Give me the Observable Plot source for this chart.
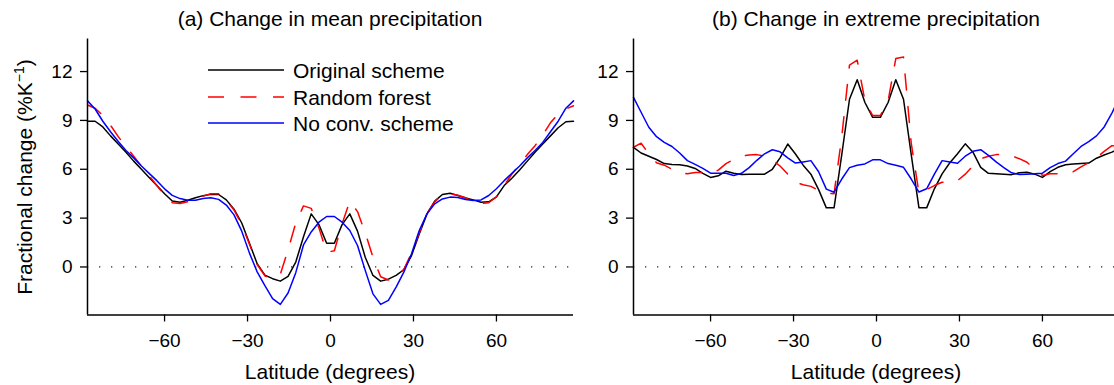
<!DOCTYPE html>
<html><head><meta charset="utf-8">
<script src="https://cdn.jsdelivr.net/npm/d3@7"></script>
<script src="https://cdn.jsdelivr.net/npm/@observablehq/plot@0.6"></script>
<style>
body{margin:0;overflow:hidden;background:#fff;font-family:"Liberation Sans",Arial,Helvetica,sans-serif;}
#wrap{position:relative;width:1114px;height:385px;overflow:hidden;background:#fff;}
.panel{position:absolute;top:0;}
.t{position:absolute;font-size:21px;line-height:21px;color:#000;white-space:nowrap;}
.c{transform:translateX(-50%);}
.ylab{transform:translate(-50%,-50%) rotate(-90deg);}
sup{font-size:14px;line-height:0;vertical-align:8px;}
</style></head>
<body><div id="wrap"></div>
<script>
// Gaussian latitudes (T42), south to north
const lat = [-87.864,-85.116,-82.326,-79.535,-76.744,-73.953,-71.163,-68.372,-65.581,-62.791,-60.000,-57.209,-54.419,-51.628,-48.837,-46.047,-43.256,-40.465,-37.674,-34.884,-32.093,-29.302,-26.512,-23.721,-20.930,-18.139,-15.349,-12.558,-9.767,-6.977,-4.186,-1.395,
 1.395,4.186,6.977,9.767,12.558,15.349,18.139,20.930,23.721,26.512,29.302,32.093,34.884,37.674,40.465,43.256,46.047,48.837,51.628,54.419,57.209,60.000,62.791,65.581,68.372,71.163,73.953,76.744,79.535,82.326,85.116,87.864];

// (a) mean precipitation change (%/K)
const meanOriginal = [8.95,8.95,8.6,8.05,7.55,7.05,6.5,6.0,5.5,5.0,4.5,4.05,3.98,4.1,4.25,4.38,4.47,4.45,4.12,3.55,2.7,1.45,0.2,-0.5,-0.72,-0.87,-0.58,0.3,1.85,3.26,2.6,1.46,
 1.46,2.6,3.26,2.2,0.6,-0.52,-0.87,-0.75,-0.52,-0.17,0.7,2.03,3.26,4.04,4.45,4.53,4.39,4.24,4.12,3.98,4.0,4.3,5.0,5.45,5.95,6.5,7.05,7.55,8.05,8.55,8.92,8.95];
const meanRandomForest = [9.95,9.75,9.3,8.7,8.0,7.4,6.8,6.2,5.6,5.0,4.4,3.95,3.9,4.0,4.2,4.35,4.5,4.5,4.1,3.5,2.6,1.4,0.15,-0.55,-0.7,-0.45,1.05,2.7,3.75,3.6,2.4,0.9,
 1.0,2.65,4.04,3.4,2.1,0.6,-0.6,-0.8,-0.6,-0.15,0.85,2.1,3.3,4.0,4.45,4.5,4.4,4.25,4.05,3.9,3.95,4.3,5.0,5.7,6.3,6.9,7.45,8.1,8.85,9.4,9.7,9.9];
const meanNoConv = [10.2,9.7,8.95,8.3,7.7,7.15,6.7,6.2,5.75,5.3,4.8,4.4,4.2,4.1,4.1,4.2,4.25,4.15,3.8,3.2,2.2,0.85,-0.3,-1.15,-1.95,-2.3,-1.6,-0.35,1.35,2.15,2.75,3.1,
 3.1,2.75,2.24,1.32,-0.21,-1.65,-2.3,-2.05,-1.24,-0.32,0.81,2.24,3.26,3.88,4.18,4.29,4.27,4.14,4.08,4.12,4.39,4.8,5.3,5.75,6.2,6.7,7.15,7.65,8.3,8.95,9.75,10.2];

// (b) extreme precipitation change (%/K)
const extOriginal = [7.35,7.0,6.8,6.6,6.35,6.3,6.28,6.2,6.05,5.75,5.5,5.6,5.88,5.76,5.68,5.7,5.7,5.7,6.0,6.7,7.55,6.94,6.25,5.7,4.75,3.63,3.63,6.9,10.3,11.5,10.1,9.19,
 9.19,10.1,11.5,10.3,6.9,3.63,3.63,4.8,5.72,6.4,6.95,7.56,7.05,6.12,5.75,5.72,5.7,5.67,5.78,5.82,5.7,5.5,5.85,6.12,6.28,6.32,6.35,6.38,6.68,6.88,7.05,7.3];
const extRandomForest = [7.35,7.6,6.95,6.4,6.25,6.0,5.8,5.72,5.8,5.8,5.7,5.95,6.35,6.6,6.8,6.88,6.9,6.8,6.55,6.2,5.7,5.2,5.05,4.95,4.7,4.55,4.49,8.0,12.4,12.7,10.2,9.3,
 9.3,10.2,12.8,12.9,7.6,4.55,4.75,5.0,5.2,5.2,5.3,5.7,6.2,6.64,6.8,6.9,6.9,6.82,6.65,6.43,6.0,5.62,5.72,5.72,5.7,5.85,6.15,6.4,6.7,7.1,7.45,7.4];
const extNoConv = [10.42,9.5,8.58,8.0,7.65,7.4,7.0,6.53,6.3,6.05,5.76,5.76,5.76,5.62,5.75,6.1,6.55,6.95,7.2,7.07,6.7,6.38,6.45,6.53,5.85,4.78,4.59,5.4,6.1,6.25,6.33,6.58,
 6.58,6.35,6.25,6.12,5.4,4.6,4.8,5.7,6.53,6.45,6.37,6.8,7.1,7.2,6.85,6.45,6.1,5.78,5.68,5.7,5.72,5.76,6.1,6.35,6.5,6.95,7.4,7.7,8.05,8.6,9.45,10.4];

const xTicks = [-60,-30,0,30,60];
const yTicks = [0,3,6,9,12];
const xDomain = [-87.864, 87.864];
const yDomain = [-2.95, 14.0];
const seriesNames = ["Original scheme","Random forest","No conv. scheme"];
const seriesColors = ["#000000","#ff0000","#0000ff"];
const seriesDash = [null,"16,16.5",null];
const titles = ["(a) Change in mean precipitation","(b) Change in extreme precipitation"];

function makePanel(vals, width, ml, mr) {
  const marks = [
    Plot.ruleY([0], {stroke:"#000", strokeWidth:1.3, strokeDasharray:"1.3,10.7", strokeOpacity:0.85})
  ];
  vals.forEach((v, k) => {
    const rows = lat.map((l, i) => ({lat: l, v: v[i]}));
    marks.push(Plot.line(rows, {x:"lat", y:"v", stroke: seriesColors[k], strokeWidth:1.5,
      strokeDasharray: seriesDash[k] || undefined}));
  });
  marks.push(Plot.ruleX([xDomain[0]], {stroke:"#000", strokeWidth:1.5}));
  marks.push(Plot.ruleY([yDomain[0]], {stroke:"#000", strokeWidth:1.5}));
  marks.push(Plot.axisX({ticks: xTicks, tickSize: 7, tickPadding: 11, label: null, fontSize: 19, strokeWidth: 1.3}));
  marks.push(Plot.axisY({ticks: yTicks, tickSize: 7, tickPadding: 8, label: null, fontSize: 19, strokeWidth: 1.3}));
  return Plot.plot({
    width, height: 385,
    marginLeft: ml, marginRight: mr, marginTop: 38.5, marginBottom: 70.5,
    x: {domain: xDomain},
    y: {domain: yDomain},
    style: {fontFamily: "'Liberation Sans', Arial, Helvetica, sans-serif", color: "#000", background: "transparent", overflow: "visible"},
    marks
  });
}

const wrap = document.getElementById("wrap");
const pa = makePanel([meanOriginal, meanRandomForest, meanNoConv], 590, 87, 17);
pa.classList.add("panel"); pa.style.left = "0px";
wrap.appendChild(pa);
const pb = makePanel([extOriginal, extRandomForest, extNoConv], 529, 43, 0);
pb.classList.add("panel"); pb.style.left = "590px";
wrap.appendChild(pb);

function addText(html, cls, left, top) {
  const d = document.createElement("div");
  d.className = "t " + cls;
  d.innerHTML = html;
  d.style.left = left + "px";
  d.style.top = top + "px";
  wrap.appendChild(d);
  return d;
}
// titles and axis labels
addText(titles[0], "c", 330, 8);
addText(titles[1], "c", 876, 8);
addText("Latitude (degrees)", "c", 330, 360.5);
addText("Latitude (degrees)", "c", 876, 360.5);
addText("Fractional change (%K<sup>−1</sup>)", "ylab", 24, 176.5);

// legend (panel a)
seriesNames.forEach((name, k) => {
  const cy = 70 + k * 26.5;
  const svg = d3.select(wrap).append("svg")
    .attr("width", 78).attr("height", 6)
    .style("position", "absolute").style("left", "207px").style("top", (cy - 3) + "px");
  const ln = svg.append("line").attr("x1", 1).attr("x2", 77).attr("y1", 3).attr("y2", 3)
    .attr("stroke", seriesColors[k]).attr("stroke-width", 1.5);
  if (seriesDash[k]) ln.attr("stroke-dasharray", seriesDash[k]);
  addText(name, "", 293, cy - 9.8);
});
</script>
</body></html>
